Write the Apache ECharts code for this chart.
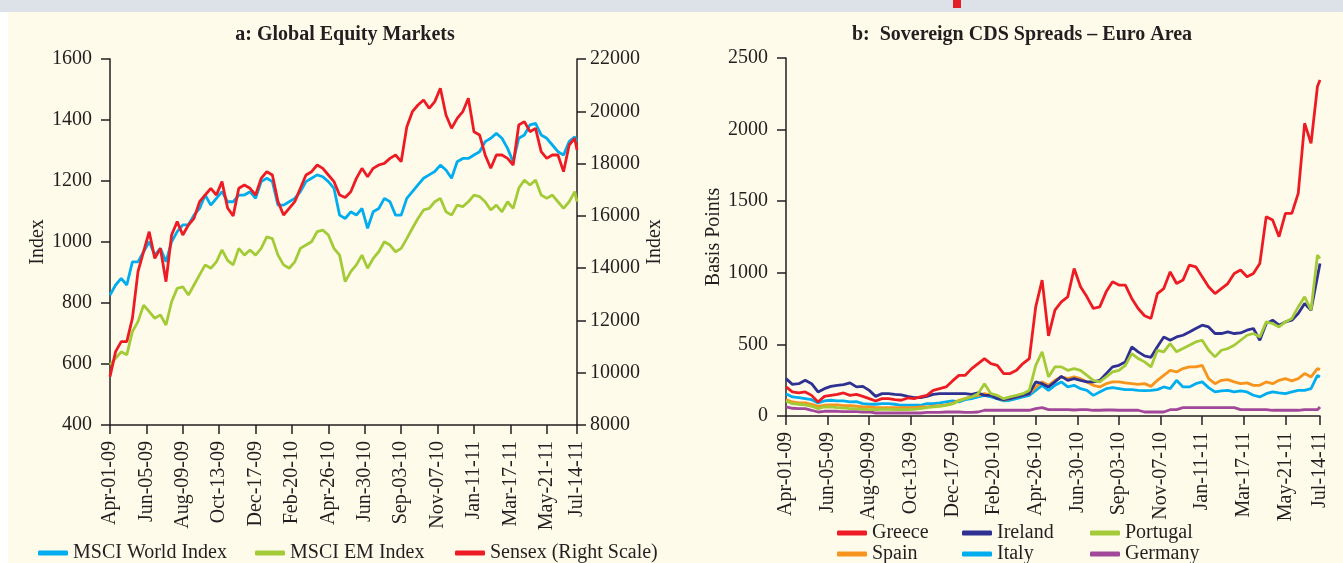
<!DOCTYPE html>
<html>
<head>
<meta charset="utf-8">
<title>Global Equity Markets / Sovereign CDS Spreads</title>
<script src="https://cdn.jsdelivr.net/npm/echarts@6/dist/echarts.min.js"></script>
<style>
  html, body { margin: 0; padding: 0; background: #fffbea; }
  #chart { width: 1343px; height: 563px; }
</style>
</head>
<body>
<div id="chart"></div>
<script>
// sample days counted from Apr-01-09 (every 10 days, last point Jul-14-11)
const sampleDays = [];
for (let d = 0; d <= 830; d += 10) sampleDays.push(d);
sampleDays.push(834);

// a: Global Equity Markets
const msciWorld = [826, 859, 881, 859, 935, 935, 968, 1001, 957, 979, 935, 1001, 1034, 1056, 1056, 1088, 1110, 1154, 1121, 1143,
  1165, 1132, 1132, 1154, 1154, 1165, 1143, 1198, 1209, 1198, 1121, 1121, 1132, 1143, 1165, 1198, 1209, 1220, 1214, 1198,
  1176, 1088, 1077, 1099, 1088, 1110, 1045, 1099, 1110, 1143, 1132, 1088, 1088, 1143, 1165, 1187, 1209, 1220, 1231, 1252,
  1236, 1209, 1263, 1274, 1274, 1285, 1296, 1329, 1340, 1356, 1340, 1307, 1263, 1340, 1351, 1384, 1389, 1351, 1340, 1318,
  1296, 1285, 1329, 1345, 1329];
const msciEM = [597, 619, 640, 630, 706, 739, 793, 772, 750, 761, 728, 804, 848, 853, 826, 859, 892, 925, 914, 935,
  974, 940, 925, 979, 957, 974, 957, 979, 1017, 1011, 957, 925, 914, 935, 979, 990, 1001, 1034, 1039, 1023,
  979, 957, 870, 903, 925, 957, 914, 946, 968, 1001, 990, 968, 979, 1011, 1045, 1077, 1105, 1110, 1132, 1143,
  1099, 1088, 1121, 1116, 1132, 1154, 1149, 1132, 1105, 1121, 1099, 1132, 1110, 1176, 1203, 1187, 1203, 1154, 1143, 1154,
  1132, 1110, 1132, 1165, 1132];
const sensex = [9849, 10806, 11188, 11188, 12080, 13865, 14630, 15395, 14375, 14758, 13483, 15268, 15778, 15268, 15650, 15905, 16543, 16798, 17053, 16798,
  17308, 16300, 16000, 17053, 17180, 17053, 16798, 17435, 17690, 17563, 16543, 16033, 16288, 16543, 17053, 17563, 17690, 17945, 17818, 17563,
  17308, 16798, 16700, 16925, 17435, 17818, 17499, 17818, 17945, 18009, 18200, 18328, 18073, 19400, 19985, 20240, 20432, 20113, 20368, 20878,
  19858, 19348, 19730, 19985, 20496, 19220, 19093, 18328, 17818, 18328, 18328, 18200, 17945, 19475, 19603, 19220, 19348, 18455, 18200, 18328,
  18328, 17690, 18710, 18965, 18519];

// b: Sovereign CDS Spreads - Euro Area (basis points)
const greece = [203, 168, 161, 168, 144, 98, 137, 144, 151, 161, 144, 151, 137, 121, 105, 121, 121, 114, 110, 126,
  121, 133, 144, 179, 191, 203, 245, 284, 284, 331, 366, 401, 366, 354, 296, 296, 319, 366, 401, 762,
  949, 560, 739, 797, 832, 1030, 902, 832, 751, 762, 867, 937, 914, 914, 821, 751, 700, 681, 855, 890,
  1007, 925, 949, 1054, 1042, 972, 902, 855, 890, 925, 995, 1019, 972, 995, 1065, 1392, 1368, 1252, 1415, 1415,
  1555, 2044, 1904, 2301, 2347];
const ireland = [261, 221, 226, 249, 226, 168, 191, 207, 214, 219, 231, 203, 207, 179, 137, 156, 156, 151, 147, 137,
  128, 128, 137, 151, 156, 156, 156, 156, 156, 151, 161, 144, 144, 121, 114, 121, 133, 144, 156, 238,
  226, 203, 238, 277, 249, 261, 249, 238, 238, 249, 296, 343, 354, 378, 482, 448, 420, 410, 483, 552,
  529, 552, 564, 587, 611, 634, 622, 576, 576, 587, 576, 580, 599, 611, 529, 646, 669, 634, 657, 669,
  716, 786, 739, 972, 1065];
const portugal = [105, 86, 82, 77, 68, 51, 63, 63, 58, 56, 51, 51, 47, 44, 44, 47, 47, 44, 44, 44,
  47, 51, 58, 63, 68, 75, 84, 105, 121, 133, 156, 226, 156, 144, 121, 133, 144, 156, 179, 354,
  448, 273, 343, 343, 319, 331, 319, 284, 249, 238, 273, 308, 319, 354, 436, 401, 378, 343, 459, 448,
  506, 448, 471, 494, 517, 529, 459, 413, 459, 471, 494, 529, 564, 576, 552, 657, 646, 622, 657, 681,
  762, 832, 739, 1124, 1100];
const spain = [114, 98, 91, 91, 82, 68, 75, 77, 77, 72, 72, 68, 63, 63, 58, 58, 58, 58, 58, 58,
  58, 63, 63, 68, 72, 77, 88, 110, 121, 137, 144, 156, 144, 133, 110, 121, 133, 144, 156, 203,
  238, 214, 249, 273, 261, 273, 261, 238, 214, 203, 226, 238, 238, 231, 226, 221, 226, 207, 249, 284,
  319, 308, 331, 343, 343, 354, 261, 226, 249, 254, 238, 226, 231, 214, 214, 238, 226, 249, 261, 245,
  261, 296, 273, 331, 324];
const italy = [156, 133, 128, 121, 114, 91, 105, 110, 105, 105, 98, 100, 86, 82, 82, 86, 86, 82, 75, 75,
  75, 75, 86, 86, 91, 98, 105, 98, 114, 121, 133, 144, 133, 121, 105, 110, 121, 133, 144, 179,
  214, 179, 214, 238, 203, 214, 191, 179, 144, 168, 191, 198, 191, 184, 184, 179, 177, 179, 184, 203,
  191, 249, 203, 203, 226, 238, 198, 168, 175, 179, 168, 175, 168, 145, 133, 156, 168, 161, 156, 168,
  179, 179, 191, 284, 273];
const germany = [63, 54, 51, 51, 40, 28, 33, 33, 33, 30, 30, 30, 28, 28, 21, 21, 21, 21, 21, 21,
  21, 21, 26, 26, 26, 28, 28, 28, 25, 25, 28, 40, 40, 40, 40, 40, 40, 40, 40, 51,
  58, 45, 45, 45, 45, 42, 45, 45, 40, 40, 42, 42, 40, 40, 40, 40, 28, 28, 28, 28,
  44, 44, 58, 58, 58, 58, 58, 58, 58, 58, 58, 44, 44, 44, 44, 44, 40, 40, 40, 40,
  40, 44, 44, 44, 63];

const MONTHS = ['Jan', 'Feb', 'Mar', 'Apr', 'May', 'Jun', 'Jul', 'Aug', 'Sep', 'Oct', 'Nov', 'Dec'];
const pad = n => (n < 10 ? '0' : '') + n;
function dayLabel(d) {
  const t = new Date(Date.UTC(2009, 3, 1) + d * 86400000);
  return MONTHS[t.getUTCMonth()] + '-' + pad(t.getUTCDate()) + '-' + pad(t.getUTCFullYear() % 100);
}
const pairs = vals => sampleDays.map((d, i) => [d, vals[i]]);

const FONT = 'Liberation Serif';
const INK = '#231f20';
const axisLine = { show: true, lineStyle: { color: INK, width: 1.5 } };
const axisTick = { show: true, length: 9, lineStyle: { color: INK, width: 1.5 } };
const labelStyle = { color: INK, fontFamily: FONT, fontSize: 20 };
const plain = v => String(v);

function xAxisFor(gridIndex) {
  return {
    type: 'value', gridIndex: gridIndex, min: 0, max: 834, interval: 65,
    axisLine: axisLine, axisTick: axisTick, splitLine: { show: false },
    axisLabel: Object.assign({ rotate: 90, margin: 16, showMaxLabel: true, showMinLabel: true, formatter: dayLabel }, labelStyle)
  };
}

function line(name, vals, color, xi, yi) {
  return {
    name: name, type: 'line', xAxisIndex: xi, yAxisIndex: yi, data: pairs(vals),
    showSymbol: false, symbol: 'none', lineStyle: { color: color, width: 2.8 }, itemStyle: { color: color }
  };
}

function legendAt(name, left, top) {
  return {
    data: [name], left: left, top: top, icon: 'roundRect', itemWidth: 30, itemHeight: 5,
    textStyle: { color: INK, fontFamily: FONT, fontSize: 20 }, selectedMode: false
  };
}

const option = {
  backgroundColor: '#fffbea',
  animation: false,
  graphic: [
    { type: 'rect', left: 0, top: 0, shape: { width: 1343, height: 12 }, style: { fill: '#dde2e8' } },
    { type: 'rect', left: 0, top: 12, shape: { width: 8, height: 551 }, style: { fill: '#ffffff' } },
    { type: 'rect', left: 953, top: 0, shape: { width: 8, height: 8 }, style: { fill: '#e31e24' } }
  ],
  title: [
    { text: 'a: Global Equity Markets', left: 340, top: 20, textAlign: 'center',
      textStyle: { color: INK, fontFamily: FONT, fontSize: 20, fontWeight: 'bold' } },
    { text: 'b:  Sovereign CDS Spreads \u2013 Euro Area', left: 1017, top: 20, textAlign: 'center',
      textStyle: { color: INK, fontFamily: FONT, fontSize: 20, fontWeight: 'bold' } }
  ],
  legend: [
    legendAt('MSCI World Index', 33, 538),
    legendAt('MSCI EM Index', 250, 538),
    legendAt('Sensex (Right Scale)', 450, 538),
    legendAt('Greece', 832, 518),
    legendAt('Ireland', 957, 518),
    legendAt('Portugal', 1085, 518),
    legendAt('Spain', 832, 539),
    legendAt('Italy', 957, 539),
    legendAt('Germany', 1085, 539)
  ],
  grid: [
    { left: 110, top: 59, width: 467, height: 366 },
    { left: 786, top: 58, width: 534, height: 358 }
  ],
  xAxis: [xAxisFor(0), xAxisFor(1)],
  yAxis: [
    {
      type: 'value', gridIndex: 0, position: 'left', min: 400, max: 1600, interval: 200,
      name: 'Index', nameLocation: 'middle', nameGap: 52, nameRotate: 90, nameTextStyle: labelStyle,
      axisLine: axisLine, axisTick: axisTick, splitLine: { show: false },
      axisLabel: Object.assign({ margin: 18, formatter: plain }, labelStyle)
    },
    {
      type: 'value', gridIndex: 0, position: 'right', min: 8000, max: 22000, interval: 2000,
      name: 'Index', nameLocation: 'middle', nameGap: 68, nameRotate: 90, nameTextStyle: labelStyle,
      axisLine: axisLine, axisTick: axisTick, splitLine: { show: false },
      axisLabel: Object.assign({ margin: 13, formatter: plain }, labelStyle)
    },
    {
      type: 'value', gridIndex: 1, position: 'left', min: 0, max: 2500, interval: 500,
      name: 'Basis Points', nameLocation: 'middle', nameGap: 53, nameRotate: 90, nameTextStyle: labelStyle,
      axisLine: axisLine, axisTick: axisTick, splitLine: { show: false },
      axisLabel: Object.assign({ margin: 18, formatter: plain }, labelStyle)
    }
  ],
  series: [
    line('MSCI World Index', msciWorld, '#00aeef', 0, 0),
    line('MSCI EM Index', msciEM, '#a3cb38', 0, 0),
    line('Sensex (Right Scale)', sensex, '#ed1c24', 0, 1),
    line('Germany', germany, '#a2489a', 1, 2),
    line('Italy', italy, '#00aeef', 1, 2),
    line('Spain', spain, '#f7941d', 1, 2),
    line('Ireland', ireland, '#2e3192', 1, 2),
    line('Portugal', portugal, '#a3cb38', 1, 2),
    line('Greece', greece, '#ed1c24', 1, 2)
  ]
};

const myChart = echarts.init(document.getElementById('chart'));
myChart.setOption(option);
</script>
</body>
</html>
